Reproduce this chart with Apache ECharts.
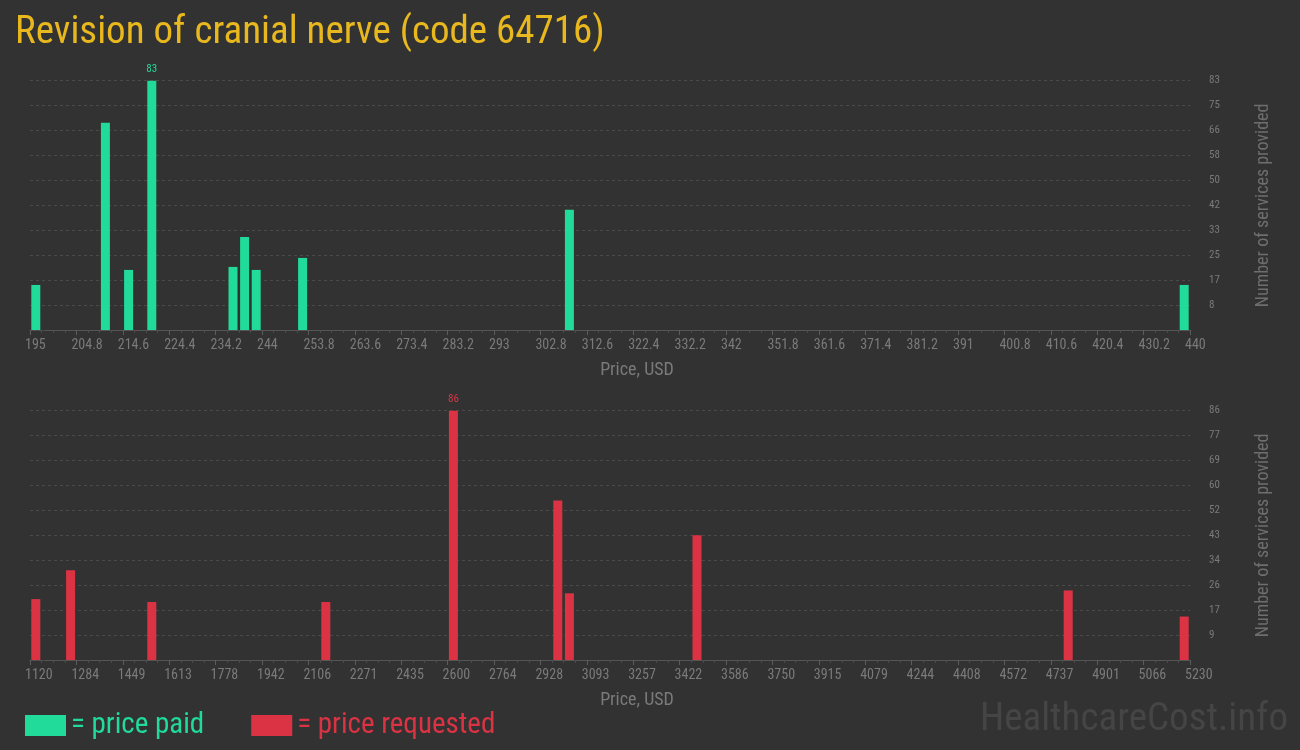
<!DOCTYPE html>
<html>
<head>
<meta charset="utf-8">
<script src="https://cdn.jsdelivr.net/npm/echarts@6/dist/echarts.min.js"></script>
<style>
html,body{margin:0;padding:0;background:#323232;}
#c{width:1300px;height:750px;}
</style>
</head>
<body>
<div id="c"></div>
<script>
// ---- data ----
const titleText = 'Revision of cranial nerve (code 64716)';
// histogram bins (index 0..99, 100 equal-width bins across the axis range)
const paidBins = [0, 6, 8, 10, 17, 18, 19, 23, 46, 99];
const paidCounts = [15, 69, 20, 83, 21, 31, 20, 24, 40, 15];
const requestedBins = [0, 3, 10, 25, 36, 45, 46, 57, 89, 99];
const requestedCounts = [21, 31, 20, 20, 86, 55, 23, 43, 24, 15];
const paidXLabels = ['195','204.8','214.6','224.4','234.2','244','253.8','263.6','273.4','283.2','293','302.8','312.6','322.4','332.2','342','351.8','361.6','371.4','381.2','391','400.8','410.6','420.4','430.2','440'];
const requestedXLabels = ['1120','1284','1449','1613','1778','1942','2106','2271','2435','2600','2764','2928','3093','3257','3422','3586','3750','3915','4079','4244','4408','4572','4737','4901','5066','5230'];
const paidYLabels = ['8','17','25','33','42','50','58','66','75','83'];
const requestedYLabels = ['9','17','26','34','43','52','60','69','77','86'];
const paidMax = 83;
const requestedMax = 86;

const GREEN = '#21db9b';
const RED = '#dc3344';
const AXIS_TXT = '#7a7a7a';
const GRID = '#4a4a4a';
const COND = '"Roboto Condensed", Roboto, sans-serif';

function makeX(gridIndex, labels) {
  return {
    type: 'value', gridIndex: gridIndex, min: 0, max: 100, interval: 4,
    name: 'Price, USD', nameLocation: 'middle', nameGap: 31,
    nameTextStyle: { color: AXIS_TXT, fontSize: 18, fontFamily: COND, padding: [0, 0, 0, 54] },
    axisLine: { show: true, lineStyle: { color: '#555555', width: 1 } },
    axisTick: { show: true, length: 5, lineStyle: { color: '#5c5c5c' } },
    minorTick: { show: true, splitNumber: 4, length: 3, lineStyle: { color: '#4c4c4c' } },
    splitLine: { show: false },
    axisLabel: {
      color: AXIS_TXT, fontSize: 14, fontFamily: COND, margin: 8, align: 'left',
      padding: [0, 0, 0, -5], showMinLabel: true, showMaxLabel: true,
      formatter: function (v) { return labels[Math.round(v / 4)] || ''; }
    }
  };
}
function makeY(gridIndex, maxV, labels) {
  const step = maxV / 10;
  return {
    type: 'value', gridIndex: gridIndex, position: 'right', min: 0, max: maxV, interval: step,
    name: 'Number of services provided', nameLocation: 'middle', nameRotate: 90, nameGap: 64,
    nameTextStyle: { color: '#6e6e6e', fontSize: 18, fontFamily: COND },
    axisLine: { show: false },
    axisTick: { show: true, length: 16, lineStyle: { color: GRID, type: [3, 3] } },
    splitLine: { show: true, lineStyle: { color: GRID, type: [3, 3] } },
    axisLabel: {
      color: AXIS_TXT, fontSize: 11, fontFamily: COND, margin: 19, align: 'left',
      formatter: function (v) { const i = Math.round(v / step); return i === 0 ? '' : (labels[i - 1] || ''); }
    }
  };
}
function makeData(bins, counts, maxV, color) {
  return bins.map(function (b, i) {
    const item = { value: [b + 0.5, counts[i]] };
    if (counts[i] === maxV) {
      item.label = { show: true, position: 'top', distance: 6, color: color, fontSize: 11, fontFamily: COND, formatter: String(counts[i]) };
    }
    return item;
  });
}

const chart = echarts.init(document.getElementById('c'), null, { renderer: 'canvas' });
chart.setOption({
  backgroundColor: '#323232',
  animation: false,
  title: {
    text: titleText, left: 10, top: 9,
    textStyle: { color: '#e8b81e', fontSize: 39, fontWeight: 'normal', fontFamily: COND }
  },
  legend: {
    left: 20, top: 706, itemWidth: 41, itemHeight: 21, itemGap: 47, icon: 'rect',
    formatter: function (n) { return '= ' + n; },
    textStyle: { fontSize: 29, fontFamily: COND },
    data: [
      { name: 'price paid', textStyle: { color: GREEN } },
      { name: 'price requested', textStyle: { color: RED } }
    ]
  },
  graphic: [{
    type: 'text', right: 12, top: 701,
    style: { text: 'HealthcareCost.info', fill: '#454545', fontSize: 39, fontFamily: COND }
  }],
  grid: [
    { left: 30, right: 110, top: 80.7, height: 249.3 },
    { left: 30, right: 110, top: 410.7, height: 249.3 }
  ],
  xAxis: [makeX(0, paidXLabels), makeX(1, requestedXLabels)],
  yAxis: [makeY(0, paidMax, paidYLabels), makeY(1, requestedMax, requestedYLabels)],
  series: [
    { name: 'price paid', type: 'bar', xAxisIndex: 0, yAxisIndex: 0, barWidth: 9,
      itemStyle: { color: GREEN }, data: makeData(paidBins, paidCounts, paidMax, GREEN) },
    { name: 'price requested', type: 'bar', xAxisIndex: 1, yAxisIndex: 1, barWidth: 9,
      itemStyle: { color: RED }, data: makeData(requestedBins, requestedCounts, requestedMax, RED) }
  ]
});
</script>
</body>
</html>
